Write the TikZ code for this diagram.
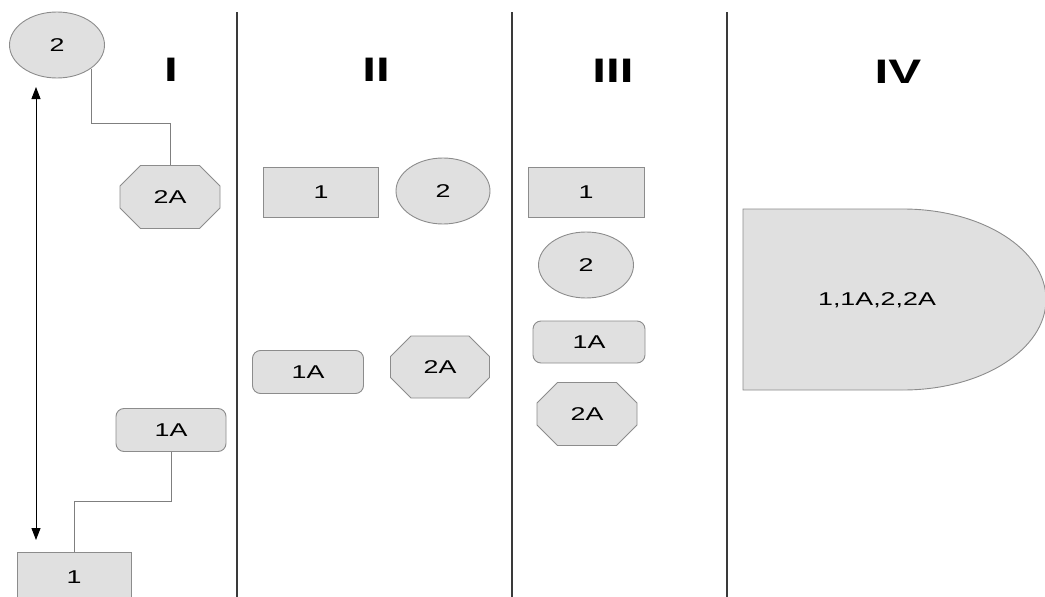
\documentclass[tikz,border=0pt]{standalone}
\usepackage{fontspec}
\setmainfont{Liberation Sans}
\newfontfamily\widesans[FakeStretch=1.45]{Liberation Sans}
\usetikzlibrary{positioning,arrows.meta,shapes.geometric,shapes.misc}

\definecolor{shapefill}{HTML}{E0E0E0}
\definecolor{shapeedge}{HTML}{8C8C8C}
\definecolor{linkgray}{HTML}{7F7F7F}
\definecolor{divgray}{HTML}{3A3A3A}

\begin{document}
\begin{tikzpicture}[
    x=1pt, y=-1pt,
    font=\widesans\fontsize{18.5}{21}\selectfont,
    shp/.style={draw=shapeedge, fill=shapefill, line width=0.9pt, inner sep=0pt},
    rectbox/.style={shp, rectangle, minimum width=115pt, minimum height=50pt},
    roundbox/.style={shp, rectangle, rounded corners=8pt,
                     minimum width=111pt, minimum height=43pt},
    ovalbox/.style={shp, ellipse, minimum width=95pt, minimum height=66pt},
    octbox/.style={shp, chamfered rectangle, chamfered rectangle xsep=15pt,
                   chamfered rectangle ysep=14pt,
                   minimum width=100pt, minimum height=63pt},
    link/.style={draw=linkgray, line width=0.8pt},
    divider/.style={divgray, line width=1.2pt},
    hdr/.style={font=\widesans\fontsize{34}{38}\selectfont\bfseries},
    dbl/.style={<->, >={Triangle[length=12pt, width=9pt]}, line width=1pt},
  ]
  \useasboundingbox (0,0) rectangle (1045,597);

  % --- column dividers and headings ---
  \draw[divider] (237,12) -- (237,597);
  \draw[divider] (512,12) -- (512,597);
  \draw[divider] (727,12) -- (727,597);
  \node[hdr] (hI)   at (171,70) {I};
  \node[hdr] (hII)  at (376,70) {II};
  \node[hdr] (hIII) at (613,71) {III};
  \node[hdr] (hIV)  at (898,72) {IV};

  % --- Column I ---
  \node[ovalbox]  (c1two)   at (57,45)   {2};
  \node[octbox]   (c1twoA)  at (170,197) {2A};
  \node[roundbox, minimum width=110pt] (c1oneA) at (171,430) {1A};
  \node[rectbox, minimum width=114pt] (c1one) at (74,577) {1};
  \draw[link] (c1two.south east) -- ++(0,55) -| (c1twoA.north);
  \draw[link] (c1oneA.south) -- ++(0,49) -| (c1one.north);
  \coordinate (arrtop) at (36,87);
  \coordinate (arrbot) at (36,540);
  \draw[dbl] (arrtop) -- (arrbot);

  % --- Column II ---
  \node[rectbox]  (c2one)   at (321,192) {1};
  \node[ovalbox, minimum width=94pt] (c2two) at (443,191) {2};
  \node[roundbox] (c2oneA)  at (308,372) {1A};
  \node[octbox, minimum width=99pt, minimum height=62pt] (c2twoA) at (440,367) {2A};

  % --- Column III ---
  \node[rectbox, minimum width=116pt] (c3one) at (586,192) {1};
  \node[ovalbox]  (c3two)   at (586,265) {2};
  \node[roundbox, minimum width=112pt, minimum height=42pt] (c3oneA) at (589,342) {1A};
  \node[octbox]   (c3twoA)  at (587,414) {2A};

  % --- Column IV: merged shape ---
  \filldraw[shp] (743,209) -- (903,209)
    arc[start angle=-90, end angle=90, x radius=143, y radius=90.5]
    -- (743,390) -- cycle;
  \node (merged) at (877,300) {1,1A,2,2A};
\end{tikzpicture}
\end{document}
